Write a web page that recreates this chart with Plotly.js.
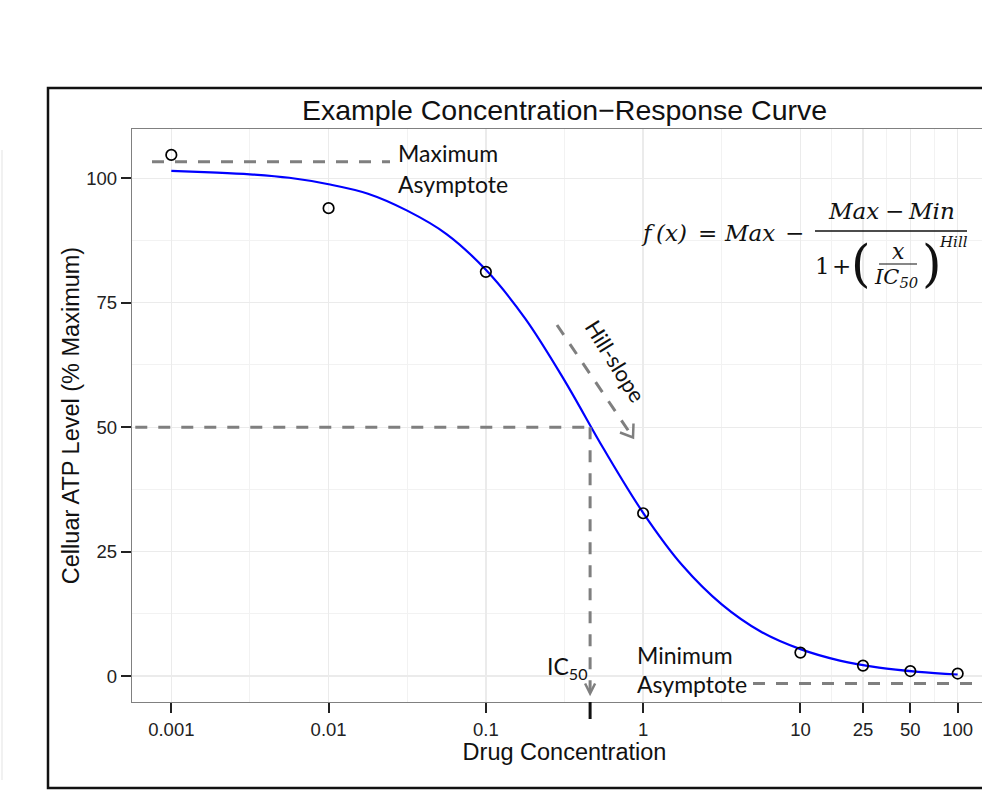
<!DOCTYPE html>
<html><head><meta charset="utf-8">
<script src="https://cdn.plot.ly/plotly-3.0.1.min.js"></script>
<style>html,body{margin:0;padding:0;overflow:hidden;background:#fff;width:982px;height:799px}#chart{width:1000px;height:799px}</style>
</head><body><div id="chart"></div>
<script>
// ---- data ----
const concentration = [0.001, 0.01, 0.1, 1, 10, 25, 50, 100];
const atpLevel = [104.7, 94.0, 81.2, 32.7, 4.7, 2.1, 1.0, 0.5];
const fitConcentration = [0.001, 0.00178, 0.00316, 0.00562, 0.01, 0.0178, 0.0316, 0.0562, 0.1, 0.178, 0.316, 0.562, 1, 1.78, 3.16, 5.62, 10, 17.8, 31.6, 56.2, 100];
const fitLevel = [101.5, 101.2, 100.8, 100.1, 98.8, 96.9, 93.5, 88.8, 81.6, 71.8, 59.4, 45.6, 32.8, 22.2, 14.4, 8.9, 5.4, 3.1, 1.7, 0.85, 0.3];
const xTickValues = [0.001, 0.01, 0.1, 1, 10, 25, 50, 100];
const xTickLabels = ['0.001', '0.01', '0.1', '1', '10', '25', '50', '100'];
const yTickValues = [0, 25, 50, 75, 100];
const yTickLabels = ['0', '25', '50', '75', '100'];
const ic50 = 0.46;
const maxAsymptote = 103.3;
const minAsymptote = -1.5;

// ---- geometry helpers (pixel -> paper) ----
const W = 1000, H = 799, ML = 132, MR = 3, MT = 129, MB = 97;
const PW = W - ML - MR, PH = H - MT - MB;
const X = px => (px - ML) / PW;
const Y = py => (H - MB - py) / PH;

const sans = 'Liberation Sans, Arial, sans-serif';
const cal = 'Lato, Carlito, Calibri, sans-serif';
const serif = 'DejaVu Serif, serif';
const dashGrey = '#7f7f7f';
const dash = '12px,11px';

function note(text, px, py, o) {
  o = o || {};
  return {
    text: text, x: X(px), y: Y(py), xref: 'paper', yref: 'paper', showarrow: false,
    xanchor: o.xanchor || 'center', yanchor: 'middle', textangle: o.angle || 0,
    font: {family: o.family || cal, size: o.size || 23, color: '#111', style: o.style || 'normal'}
  };
}
function fnote(text, px, py, size, style) {
  return note(text, px, py, {family: serif, size: size || 23, style: style || 'italic'});
}

const traces = [
  {x: fitConcentration, y: fitLevel, type: 'scatter', mode: 'lines',
   line: {color: '#0000ff', width: 2.2, shape: 'spline', smoothing: 1}, hoverinfo: 'skip'},
  {x: concentration, y: atpLevel, type: 'scatter', mode: 'markers',
   marker: {symbol: 'circle-open', size: 10.5, color: '#000', line: {width: 1.7, color: '#000'}}}
];

const shapes = [
  // outer frame
  {type: 'rect', xref: 'paper', yref: 'paper', x0: X(48), x1: X(1020), y0: Y(788), y1: Y(88),
   line: {color: '#111', width: 2.5}},
  {type: 'line', xref: 'paper', yref: 'paper', x0: X(2), x1: X(2), y0: Y(150), y1: Y(780),
   line: {color: '#ececec', width: 1.5}},
  // maximum asymptote
  {type: 'line', xref: 'paper', yref: 'y', x0: X(152), x1: X(390), y0: maxAsymptote, y1: maxAsymptote,
   line: {color: dashGrey, width: 3, dash: dash}},
  // minimum asymptote
  {type: 'line', xref: 'paper', yref: 'y', x0: X(753), x1: X(995), y0: minAsymptote, y1: minAsymptote,
   line: {color: dashGrey, width: 3, dash: dash}},
  // IC50 horizontal / vertical guides
  {type: 'line', xref: 'x', yref: 'y', x0: 0.00059, x1: ic50, y0: 50, y1: 50,
   line: {color: dashGrey, width: 3, dash: dash}},
  {type: 'line', xref: 'x', yref: 'y', x0: ic50, x1: ic50, y0: 50, y1: -3.2,
   line: {color: dashGrey, width: 3, dash: dash}},
  {type: 'path', xref: 'x', yref: 'y', xsizemode: 'pixel', ysizemode: 'pixel', xanchor: ic50, yanchor: -3.5,
   path: 'M -5 10 L 0 0 L 5 10', line: {color: dashGrey, width: 2.5}},
  // IC50 tick below the axis
  {type: 'line', xref: 'x', yref: 'paper', x0: ic50, x1: ic50, y0: 0, y1: Y(719),
   line: {color: '#111', width: 3}},
  // Hill-slope arrow
  {type: 'line', xref: 'paper', yref: 'paper', x0: X(557), y0: Y(325), x1: X(632), y1: Y(436),
   line: {color: dashGrey, width: 3, dash: dash}},
  {type: 'path', xref: 'paper', yref: 'paper', xsizemode: 'pixel', ysizemode: 'pixel', xanchor: X(633), yanchor: Y(437.5),
   path: 'M 0.5 14 L 0 0 L -13 5', line: {color: dashGrey, width: 2.5}},
  // formula fraction bars
  {type: 'line', xref: 'paper', yref: 'paper', x0: X(815), x1: X(967), y0: Y(231), y1: Y(231),
   line: {color: '#111', width: 1.3}},
  {type: 'line', xref: 'paper', yref: 'paper', x0: X(879), x1: X(917), y0: Y(264), y1: Y(264),
   line: {color: '#111', width: 1.1}}
];

const annotations = [
  note('Maximum', 396, 153, {xanchor: 'left'}),
  note('Asymptote', 396, 184, {xanchor: 'left'}),
  note('Minimum', 635, 655, {xanchor: 'left'}),
  note('Asymptote', 635, 684, {xanchor: 'left'}),
  note('IC<sub>50</sub>', 589, 667, {xanchor: 'right'}),
  note('Hill-slope', 616, 361, {angle: 58, size: 22}),
  // formula f(x) = Max - (Max - Min) / (1 + (x/IC50)^Hill)
  fnote('f\u2009(x)', 664, 233),
  fnote('=', 707, 233, 23, 'normal'),
  fnote('Max', 749, 233),
  fnote('\u2212', 794.5, 233, 23, 'normal'),
  fnote('Max', 853, 211),
  fnote('\u2212', 894.5, 211, 23, 'normal'),
  fnote('Min', 931.5, 211),
  fnote('1', 822, 266, 23, 'normal'),
  fnote('+', 841.5, 266, 23, 'normal'),
  fnote('(', 861, 264, 50, 'normal'),
  fnote('x', 898, 251, 22),
  fnote('IC<sub>50</sub>', 896, 278, 21),
  fnote(')', 932, 264, 50, 'normal'),
  fnote('Hill', 953, 242, 15)
];

const layout = {
  width: W, height: H,
  margin: {l: ML, r: MR, t: MT, b: MB},
  paper_bgcolor: '#fff', plot_bgcolor: '#fff',
  showlegend: false,
  font: {family: sans, color: '#111'},
  title: {text: 'Example Concentration\u2212Response Curve', font: {family: sans, size: 28.5, color: '#111'},
          x: 0.5, xref: 'paper', xanchor: 'center', y: 1 - 110 / H, yref: 'container', yanchor: 'middle'},
  xaxis: {
    type: 'log', range: [-3.25, 2.25], tickmode: 'array', tickvals: xTickValues, ticktext: xTickLabels,
    ticks: 'outside', ticklen: 10, tickwidth: 2, tickcolor: '#222',
    tickfont: {family: sans, size: 18.5, color: '#222'},
    showgrid: true, gridcolor: '#ebebeb', gridwidth: 1.3, zeroline: false,
    showline: true, mirror: true, linecolor: '#808080', linewidth: 1.3,
    minor: {tickmode: 'array', tickvals: [0.00316, 0.0316, 0.316, 3.16, 15.8, 35.4, 70.7], showgrid: true, gridcolor: '#f2f2f2', gridwidth: 1, ticks: ''},
    title: {text: 'Drug Concentration', font: {family: sans, size: 23.5, color: '#111'}, standoff: 5}
  },
  yaxis: {
    range: [-5.22, 109.9], tickmode: 'array', tickvals: yTickValues, ticktext: yTickLabels,
    ticks: 'outside', ticklen: 10, tickwidth: 2, tickcolor: '#222',
    tickfont: {family: sans, size: 18.5, color: '#222'},
    showgrid: true, gridcolor: '#ebebeb', gridwidth: 1.3, zeroline: false,
    showline: true, mirror: true, linecolor: '#808080', linewidth: 1.3,
    minor: {tickmode: 'array', tickvals: [12.5, 37.5, 62.5, 87.5], showgrid: true, gridcolor: '#f2f2f2', gridwidth: 1, ticks: ''},
    title: {text: 'Celluar ATP Level (% Maximum)', font: {family: sans, size: 23.5, color: '#111'}, standoff: 0}
  },
  shapes: shapes,
  annotations: annotations
};

Plotly.newPlot('chart', traces, layout, {displayModeBar: false, staticPlot: true});
</script>
</body></html>
